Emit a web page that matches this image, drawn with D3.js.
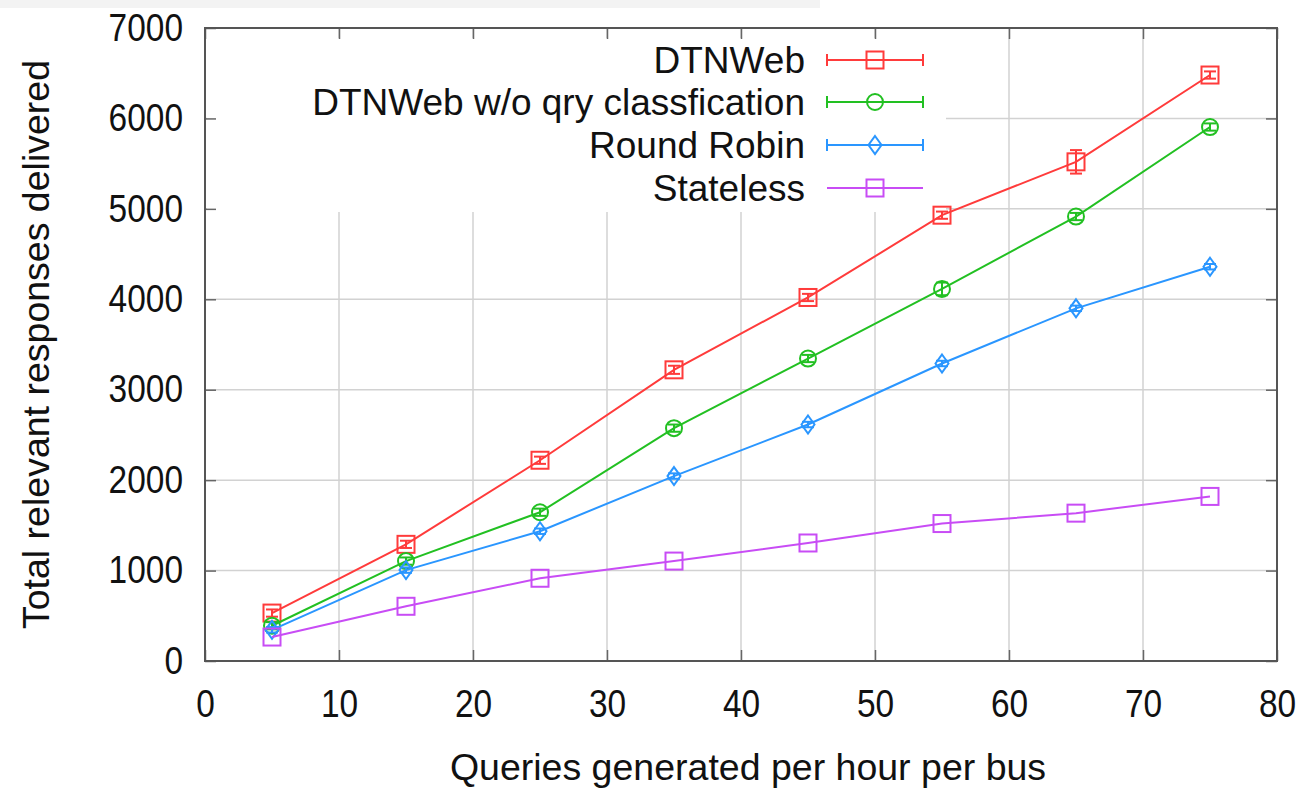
<!DOCTYPE html>
<html><head><meta charset="utf-8">
<script src="https://cdn.jsdelivr.net/npm/d3@7"></script>
<style>body{margin:0;background:#fff}text{font-family:"Liberation Sans",Arial,sans-serif;fill:#111}</style>
</head><body><svg id="c" width="1315" height="788"></svg>
<script>
const xValues = [5, 15, 25, 35, 45, 55, 65, 75];
const seriesNames = ["DTNWeb", "DTNWeb w/o qry classfication", "Round Robin", "Stateless"];
const dtnweb = [530, 1290, 2220, 3220, 4020, 4930, 5520, 6480];
const dtnwebErr = [40, 40, 40, 45, 40, 40, 130, 40];
const noClass = [390, 1105, 1645, 2575, 3345, 4115, 4915, 5905];
const noClassErr = [40, 40, 40, 40, 40, 70, 40, 40];
const roundRobin = [345, 1005, 1435, 2045, 2615, 3290, 3900, 4360];
const roundRobinErr = [30, 30, 30, 30, 30, 30, 30, 30];
const stateless = [265, 605, 915, 1105, 1305, 1520, 1635, 1820];
const xTicks = [0, 10, 20, 30, 40, 50, 60, 70, 80];
const yTicks = [0, 1000, 2000, 3000, 4000, 5000, 6000, 7000];
const xLabel = "Queries generated per hour per bus";
const yLabel = "Total relevant responses delivered";

const colors = ["#ff3b3b", "#22c022", "#2a96ff", "#c84cf5"];
const shapes = ["square", "circle", "diamond", "square"];
const series = [
  {name: seriesNames[0], vals: dtnweb, err: dtnwebErr},
  {name: seriesNames[1], vals: noClass, err: noClassErr},
  {name: seriesNames[2], vals: roundRobin, err: roundRobinErr},
  {name: seriesNames[3], vals: stateless, err: null}
];

const svg = d3.select("#c");
const L = 205, R = 1277, T = 28, B = 661;
const x = d3.scaleLinear().domain([0, 80]).range([L, R]);
const y = d3.scaleLinear().domain([0, 7000]).range([B, T]);

svg.append("rect").attr("x", 0).attr("y", 0).attr("width", 820).attr("height", 8).attr("fill", "#f3f3f3");

// grid
const g = svg.append("g");
g.selectAll(".gx").data(xTicks.slice(1, -1)).join("line")
  .attr("x1", d => x(d)).attr("x2", d => x(d)).attr("y1", T).attr("y2", B)
  .attr("stroke", "#d2d2d2").attr("stroke-width", 1.5);
g.selectAll(".gy").data(yTicks.slice(1, -1)).join("line")
  .attr("x1", L).attr("x2", R).attr("y1", d => y(d)).attr("y2", d => y(d))
  .attr("stroke", "#d2d2d2").attr("stroke-width", 1.5);

// legend background box (opaque)
svg.append("rect").attr("x", L + 2).attr("y", 38).attr("width", 946 - L - 2).attr("height", 174).attr("fill", "#fff");

// axes with mirrored inward ticks
const tickLen = 11, sx = 0.88, tickFont = 38;
const axB = d3.axisBottom(x).tickValues(xTicks).tickSize(-tickLen).tickPadding(29).tickFormat(d3.format("d"));
const axT = d3.axisTop(x).tickValues(xTicks).tickSize(-tickLen).tickFormat("");
const axL = d3.axisLeft(y).tickValues(yTicks).tickSize(-tickLen).tickPadding(22).tickFormat(d3.format("d"));
const axR = d3.axisRight(y).tickValues(yTicks).tickSize(-tickLen).tickFormat("");
function style(sel) {
  sel.select(".domain").remove();
  sel.selectAll(".tick line").attr("stroke", "#666").attr("stroke-width", 1.5);
  sel.selectAll(".tick text").attr("font-size", tickFont).attr("fill", "#111")
    .attr("font-family", "Liberation Sans, Arial, sans-serif");
}
svg.append("g").attr("transform", `translate(0,${B})`).call(axB).call(style)
  .selectAll(".tick text").attr("transform", `scale(${sx},1)`);
svg.append("g").attr("transform", `translate(0,${T})`).call(axT).call(style);
svg.append("g").attr("transform", `translate(${L},0)`).call(axL).call(style)
  .selectAll(".tick text").attr("x", -22 / sx).attr("transform", `scale(${sx},1)`);
svg.append("g").attr("transform", `translate(${R},0)`).call(axR).call(style);

// frame
svg.append("rect").attr("x", L).attr("y", T).attr("width", R - L).attr("height", B - T)
  .attr("fill", "none").attr("stroke", "#555").attr("stroke-width", 2);

// axis titles
svg.append("text").attr("x", (L + R) / 2 + 7).attr("y", 780).attr("text-anchor", "middle")
  .attr("font-size", 37.5).text(xLabel);
svg.append("text").attr("transform", `translate(49,${(T + B) / 2}) rotate(-90)`).attr("text-anchor", "middle")
  .attr("font-size", 37.5).text(yLabel);

function marker(sel, shape, color, cx, cy) {
  if (shape === "square") {
    sel.append("rect").attr("x", cx - 8.5).attr("y", cy - 8.5).attr("width", 17).attr("height", 17)
      .attr("fill", "none").attr("stroke", color).attr("stroke-width", 2);
  } else if (shape === "circle") {
    sel.append("circle").attr("cx", cx).attr("cy", cy).attr("r", 8)
      .attr("fill", "none").attr("stroke", color).attr("stroke-width", 2);
  } else {
    sel.append("path").attr("d", `M${cx},${cy - 9}L${cx + 6.5},${cy}L${cx},${cy + 9}L${cx - 6.5},${cy}Z`)
      .attr("fill", "none").attr("stroke", color).attr("stroke-width", 2);
  }
}

const line = d3.line().x((d, i) => x(xValues[i])).y(d => y(d));
series.forEach((s, k) => {
  const c = colors[k];
  const sg = svg.append("g");
  sg.append("path").attr("d", line(s.vals)).attr("fill", "none").attr("stroke", c).attr("stroke-width", 2);
  s.vals.forEach((v, i) => {
    const cx = x(xValues[i]);
    if (s.err) {
      const e = s.err[i];
      sg.append("line").attr("x1", cx).attr("x2", cx).attr("y1", y(v - e)).attr("y2", y(v + e)).attr("stroke", c).attr("stroke-width", 2);
      [v - e, v + e].forEach(w => sg.append("line").attr("x1", cx - 6).attr("x2", cx + 6).attr("y1", y(w)).attr("y2", y(w)).attr("stroke", c).attr("stroke-width", 2));
    }
    marker(sg, shapes[k], c, cx, y(v));
  });
});

// legend
const legY = [60, 102, 145, 188];
series.forEach((s, k) => {
  const c = colors[k], ly = legY[k];
  svg.append("text").attr("x", 805).attr("y", ly).attr("dy", "0.36em").attr("text-anchor", "end")
    .attr("font-size", 37).text(s.name);
  svg.append("line").attr("x1", 827).attr("x2", 923).attr("y1", ly).attr("y2", ly).attr("stroke", c).attr("stroke-width", 2);
  if (s.err) {
    [827, 923].forEach(xx => svg.append("line").attr("x1", xx).attr("x2", xx).attr("y1", ly - 6).attr("y2", ly + 6).attr("stroke", c).attr("stroke-width", 2));
  }
  marker(svg, shapes[k], c, 875, ly);
});
</script></body></html>
